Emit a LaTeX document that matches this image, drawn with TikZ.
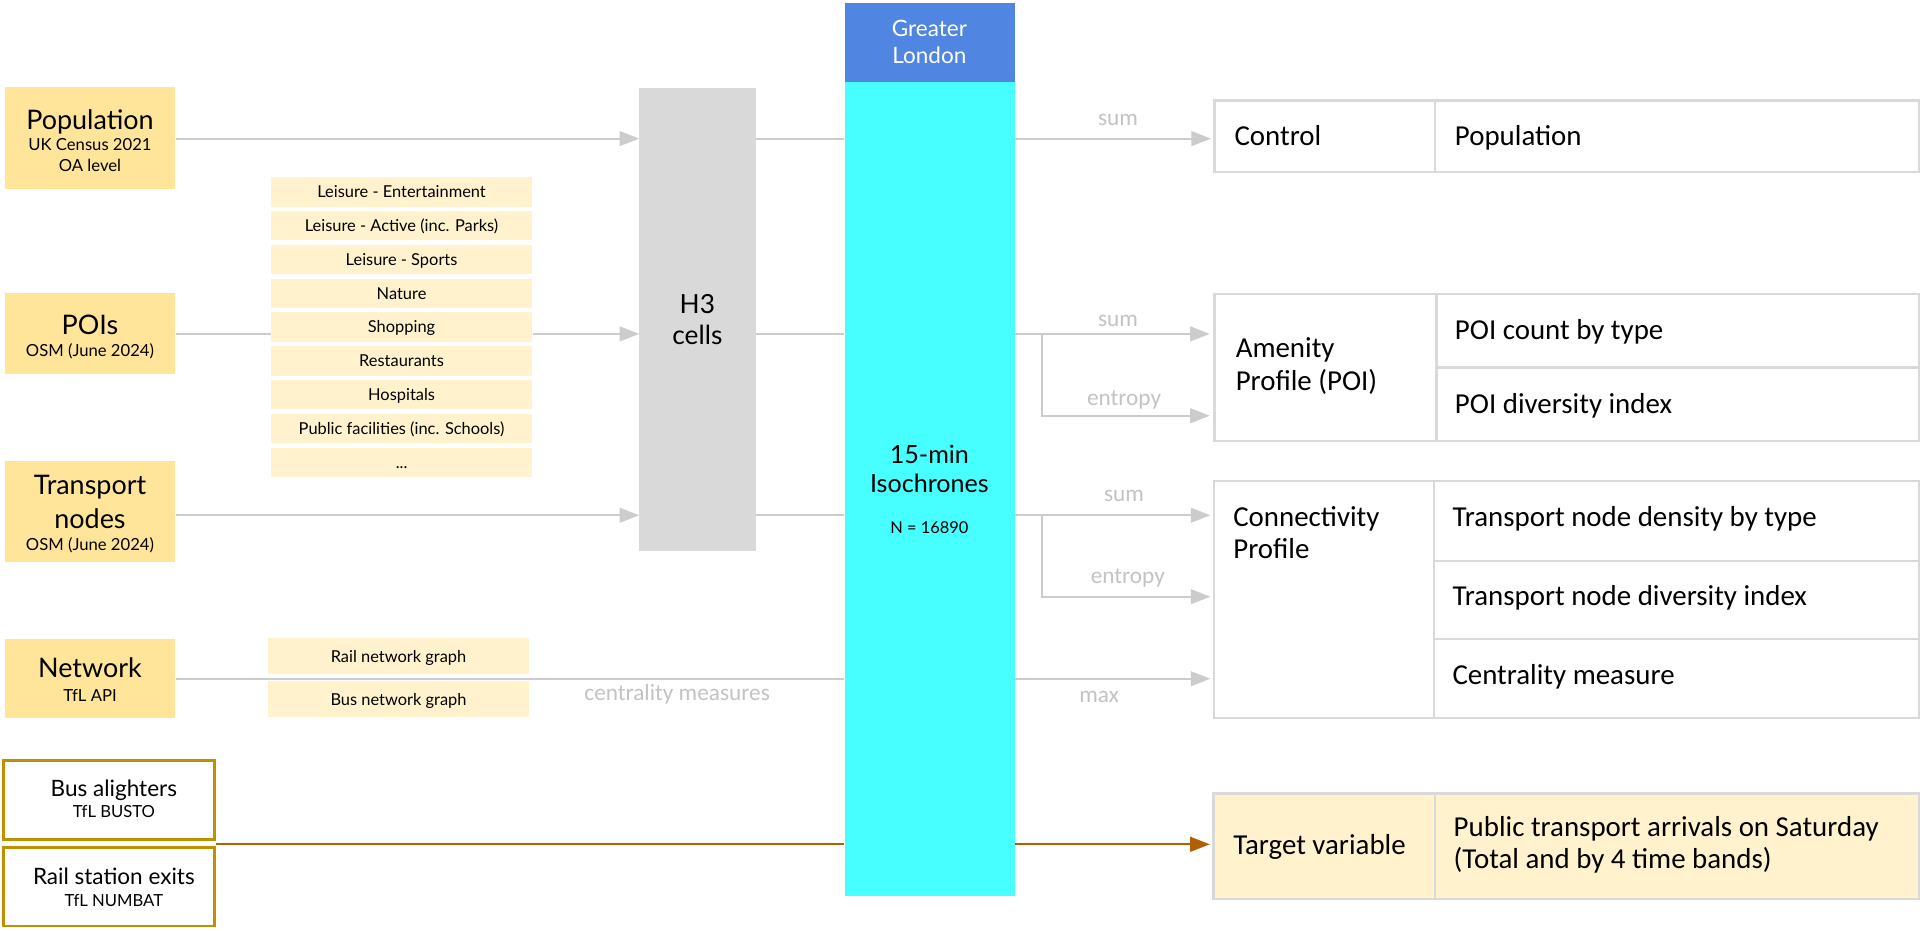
\documentclass[tikz,border=0pt]{standalone}
\usepackage{fontspec}
\setmainfont{Lato}
\newfontfamily\carl{Carlito}
\usetikzlibrary{arrows.meta}
\definecolor{srcY}{HTML}{FFE599}
\definecolor{lstY}{HTML}{FFF2CC}
\definecolor{hgray}{HTML}{D9D9D9}
\definecolor{glBlue}{HTML}{5086E2}
\definecolor{isoCyan}{HTML}{48FFFF}
\definecolor{goldB}{HTML}{BF9000}
\definecolor{rust}{HTML}{B45F06}
\definecolor{lineG}{HTML}{CCCCCC}
\definecolor{lblG}{HTML}{C3C3C3}
\definecolor{tabB}{HTML}{D9D9D9}
\begin{document}
\begin{tikzpicture}[x=1pt,y=-1pt,
  src/.style={fill=srcY,draw=none,inner sep=0,anchor=north west},
  wbox/.style={fill=white,draw=goldB,line width=2.4pt,inner sep=0,anchor=north west},
  lst/.style={fill=lstY,draw=none,inner sep=0,anchor=north west,font=\fontsize{13.4}{16}\selectfont,text height=9.6pt,text depth=0pt},
  ttl/.style={font=\fontsize{22}{28}\selectfont,align=center,inner sep=0,text height=15.8pt,text depth=0pt},
  ttlm/.style={font=\fontsize{22}{28}\selectfont,align=center,inner sep=0},
  midt/.style={font=\fontsize{18.4}{22}\selectfont,align=center,inner sep=0,text height=13.2pt,text depth=0pt},
  sub/.style={font=\fontsize{13.6}{17}\selectfont,align=center,inner sep=0,text height=9.8pt,text depth=0pt},
  subm/.style={font=\fontsize{13.6}{17}\selectfont,align=center,inner sep=0},
  cell/.style={draw=tabB,line width=2pt,inner sep=0,anchor=north west},
  tabs/.style={font=\carl\fontsize{23.6}{26.6}\selectfont,inner sep=0,anchor=west,text height=15.2pt,text depth=0pt},
  tabm/.style={font=\carl\fontsize{23.6}{26.6}\selectfont,inner sep=0,anchor=west,align=left},
  lbl/.style={font=\carl\fontsize{19}{22}\selectfont,text=lblG,inner sep=0,text height=8.9pt,text depth=0pt},
  gl/.style={draw=lineG,line width=1.6pt},
  garr/.style={gl,-{Triangle[length=16pt,width=12pt]}},
  ol/.style={draw=rust,line width=1.8pt},
  oarr/.style={ol,-{Triangle[length=16pt,width=12pt]}}
]
\fill[white] (0,0) rectangle (1568,760);
\useasboundingbox (0,0) rectangle (1568,760);

% ---- source boxes
\node[src,minimum width=139pt,minimum height=83pt] (pop) at (4,71) {};
\node[src,minimum width=139pt,minimum height=66pt] (poi) at (4,239) {};
\node[src,minimum width=139pt,minimum height=83pt] (tn) at (4,376) {};
\node[src,minimum width=139pt,minimum height=64pt] (net) at (4,522) {};
\node[wbox,minimum width=172pt,minimum height=64pt] (bus) at (2,620) {};
\node[wbox,minimum width=172pt,minimum height=64pt] (rail) at (2,691) {};

\node[ttl] (popT) at (73.5,97.5) {Population};
\node[subm] (popS) at (73.5,126.9) {UK Census 2021\\OA level};
\node[ttl] (poiT) at (73.5,265.4) {POIs};
\node[sub] (poiS) at (73.5,286.4) {OSM (June 2024)};
\node[ttlm] (tnT) at (73.5,410) {Transport\\nodes};
\node[sub] (tnS) at (73.5,445) {OSM (June 2024)};
\node[ttl] (netT) at (73.5,545.6) {Network};
\node[sub] (netS) at (73.5,568) {TfL API};
\node[midt] (busT) at (93,643.7) {Bus alighters};
\node[sub] (busS) at (93,663) {TfL BUSTO};
\node[midt] (railT) at (93,716) {Rail station exits};
\node[sub] (railS) at (93,735.5) {TfL NUMBAT};

% ---- POI category list
\node[lst,minimum width=213.5pt,minimum height=24pt] (l0) at (221,144.5) {Leisure - Entertainment};
\node[lst,minimum width=213.5pt,minimum height=24pt] (l1) at (221,172.1) {Leisure - Active (inc. Parks)};
\node[lst,minimum width=213.5pt,minimum height=24pt] (l2) at (221,199.7) {Leisure - Sports};
\node[lst,minimum width=213.5pt,minimum height=24pt] (l3) at (221,227.3) {Nature};
\node[lst,minimum width=213.5pt,minimum height=24pt] (l4) at (221,254.9) {Shopping};
\node[lst,minimum width=213.5pt,minimum height=24pt] (l5) at (221,282.5) {Restaurants};
\node[lst,minimum width=213.5pt,minimum height=24pt] (l6) at (221,310.1) {Hospitals};
\node[lst,minimum width=213.5pt,minimum height=24pt] (l7) at (221,337.7) {Public facilities (inc. Schools)};
\node[lst,minimum width=213.5pt,minimum height=24pt] (l8) at (221,365.3) {...};

% ---- network list
\node[lst,minimum width=212.5pt,minimum height=29.5pt] (rg) at (219,521) {Rail network graph};
\node[lst,minimum width=212.5pt,minimum height=29.5pt] (bg) at (219,556) {Bus network graph};

% ---- H3 and isochrones
\node[fill=hgray,inner sep=0,anchor=north west,minimum width=95pt,minimum height=378.5pt] (h3) at (522,71.5) {};
\node[ttlm,font=\fontsize{21.5}{26}\selectfont] (h3T) at (569.5,261) {H3\\cells};
\node[fill=glBlue,inner sep=0,anchor=north west,minimum width=139pt,minimum height=65pt] (gl) at (689.5,2) {};
\node[font=\fontsize{18.4}{21.7}\selectfont,align=center,inner sep=0,text=white] (glT) at (759,34) {Greater\\London};
\node[fill=isoCyan,inner sep=0,anchor=north west,minimum width=139pt,minimum height=664.7pt] (iso) at (689.5,67) {};
\node[font=\fontsize{20.5}{24}\selectfont,align=center,inner sep=0] (isoT) at (759,383) {15-min\\Isochrones};
\node[font=\fontsize{13.4}{16}\selectfont,inner sep=0,text height=9.6pt,text depth=0pt] (isoN) at (759,431) {N = 16890};

% ---- right tables
\node[cell,minimum width=180pt,minimum height=58.5pt] (ctrlA) at (991,81) {};
\node[cell,minimum width=395pt,minimum height=58.5pt] (ctrlB) at (1171,81) {};
\node[cell,minimum width=181pt,minimum height=120pt] (amenA) at (991,239) {};
\node[cell,minimum width=394pt,minimum height=60pt] (amenB1) at (1172,239) {};
\node[cell,minimum width=394pt,minimum height=60pt] (amenB2) at (1172,299) {};
\node[cell,minimum width=179.5pt,minimum height=193.5pt] (connA) at (990.5,392) {};
\node[cell,minimum width=396pt,minimum height=65pt] (connB1) at (1170,392) {};
\node[cell,minimum width=396pt,minimum height=64pt] (connB2) at (1170,457) {};
\node[cell,minimum width=396pt,minimum height=64.5pt] (connB3) at (1170,521) {};
\node[cell,fill=lstY,minimum width=181pt,minimum height=86pt] (targA) at (990,647) {};
\node[cell,fill=lstY,minimum width=395pt,minimum height=86pt] (targB) at (1171,647) {};

\node[tabs] (ctrlAT) at (1008,111) {Control};
\node[tabs] (ctrlBT) at (1188,111) {Population};
\node[tabm] (amenAT) at (1009,299) {Amenity\\Profile (POI)};
\node[tabs] (amenB1T) at (1188,269.5) {POI count by type};
\node[tabs] (amenB2T) at (1188,330) {POI diversity index};
\node[tabm] (connAT) at (1007,435) {Connectivity\\Profile};
\node[tabs] (connB1T) at (1186,422) {Transport node density by type};
\node[tabs] (connB2T) at (1186,486.7) {Transport node diversity index};
\node[tabs] (connB3T) at (1186,551) {Centrality measure};
\node[tabs] (targAT) at (1007,690) {Target variable};
\node[tabm] (targBT) at (1187,690) {Public transport arrivals on Saturday\\(Total and by 4 time bands)};

% ---- rows for connectors
\coordinate (rA) at (0,113.2);
\coordinate (rB) at (0,272.7);
\coordinate (rB2) at (0,339.5);
\coordinate (rC) at (0,420.8);
\coordinate (rC2) at (0,487.3);
\coordinate (rD) at (0,554.3);
\coordinate (rE) at (0,689.5);
\coordinate (bx) at (851,0);

% ---- left connectors
\draw[garr] (pop.east |- rA) -- (h3.west |- rA);
\draw[gl] (poi.east |- rB) -- (l4.west |- rB);
\draw[garr] (l4.east |- rB) -- (h3.west |- rB);
\draw[garr] (tn.east |- rC) -- (h3.west |- rC);
\draw[gl] (h3.east |- rA) -- (iso.west |- rA);
\draw[gl] (h3.east |- rB) -- (iso.west |- rB);
\draw[gl] (h3.east |- rC) -- (iso.west |- rC);
\draw[gl] (net.east |- rD) -- (iso.west |- rD);
\draw[ol] (rail.north east |- rE) -- (iso.west |- rE);

% ---- right connectors
\draw[garr,shorten >=2pt] (iso.east |- rA) -- (ctrlA.west |- rA);
\draw[gl] (iso.east |- rB) -- (bx |- rB);
\draw[garr,shorten >=3pt] (bx |- rB) -- (amenA.west |- rB);
\draw[garr,shorten >=3pt] (bx |- rB) |- (amenA.west |- rB2);
\draw[gl] (iso.east |- rC) -- (bx |- rC);
\draw[garr,shorten >=2pt] (bx |- rC) -- (connA.west |- rC);
\draw[garr,shorten >=2pt] (bx |- rC) |- (connA.west |- rC2);
\draw[garr,shorten >=2pt] (iso.east |- rD) -- (connA.west |- rD);
\draw[oarr,shorten >=2pt] (iso.east |- rE) -- (targA.west |- rE);

% ---- connector labels
\node[lbl] (lsum1) at (913,98) {sum};
\node[lbl] (lsum2) at (913,262) {sum};
\node[lbl] (lent1) at (918,327) {entropy};
\node[lbl] (lsum3) at (918,405) {sum};
\node[lbl] (lent2) at (921,472) {entropy};
\node[lbl] (lmax) at (897.6,569) {max};
\node[lbl] (lcent) at (553,567.6) {centrality measures};
\end{tikzpicture}
\end{document}
